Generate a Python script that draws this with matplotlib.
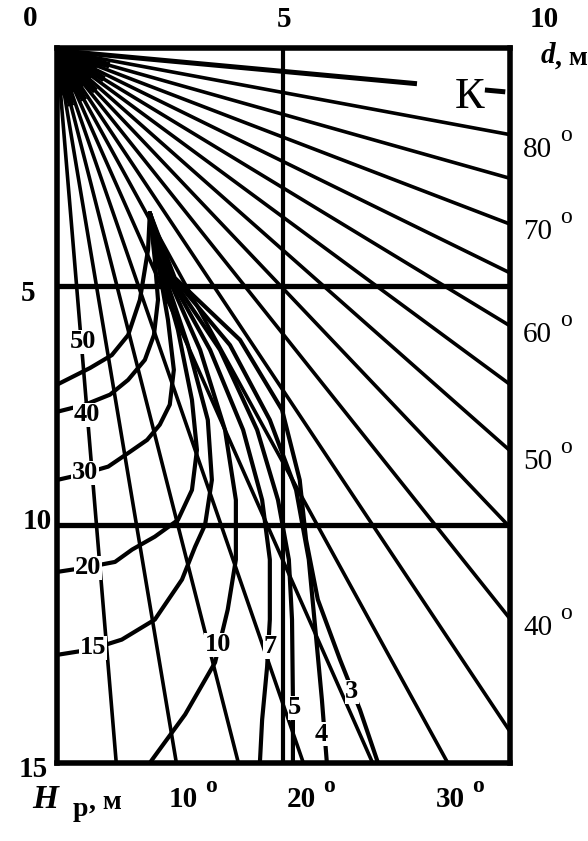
import numpy as np
import matplotlib
matplotlib.use("Agg")
import matplotlib.pyplot as plt

plt.rcParams['font.family'] = ['Liberation Serif', 'DejaVu Serif']

# rays from the pole, angle counted from the vertical (deg)
ray_angles = [5, 10, 15, 20, 25, 30, 35, 40, 45, 50, 55, 60, 65, 70, 75, 80]
pole = (0.0, 0.05)
# K line (85 deg) is drawn dashed: d-ranges of its pieces
k_angle = 85
k_pieces = [(0.0, 7.95), (9.45, 9.9)]

# second family: curves leaving the common point, (d, H)
curves = {
    '50': [(2.05, 3.46), (2.01, 4.23), (1.83, 5.28), (1.57, 6.02), (1.21, 6.44),
           (0.73, 6.71), (0, 7.06)],
    '40': [(2.05, 3.46), (2.16, 4.44), (2.23, 5.28), (2.14, 6.02), (1.94, 6.54),
           (1.57, 6.96), (1.17, 7.27), (0.62, 7.48), (0, 7.63)],
    '30': [(2.05, 3.46), (2.23, 4.49), (2.45, 5.70), (2.58, 6.75), (2.49, 7.48),
           (2.27, 7.90), (1.99, 8.22), (1.61, 8.47), (1.13, 8.78), (0.51, 8.95),
           (0, 9.06)],
    '20': [(2.05, 3.46), (2.27, 4.55), (2.67, 5.91), (2.98, 7.38), (3.09, 8.43),
           (2.98, 9.27), (2.67, 9.90), (2.16, 10.25), (1.66, 10.52), (1.28, 10.78),
           (0.62, 10.90), (0, 10.99)],
    '15': [(2.05, 3.46), (2.32, 4.61), (2.89, 6.23), (3.33, 7.80), (3.42, 9.06),
           (3.27, 10.0), (3.05, 10.46), (2.76, 11.15), (2.16, 11.99), (1.43, 12.41),
           (0.73, 12.62), (0, 12.73)],
    '10': [(2.05, 3.46), (2.38, 4.65), (3.16, 6.33), (3.71, 8.01), (3.95, 9.48),
           (3.95, 10.73), (3.77, 11.78), (3.49, 12.89), (2.83, 13.98), (2.10, 14.93),
           (2.05, 15.0)],
    '7': [(2.05, 3.46), (2.43, 4.70), (3.38, 6.33), (4.11, 8.01), (4.53, 9.48),
          (4.70, 10.73), (4.70, 11.99), (4.64, 12.98), (4.53, 14.09), (4.48, 15.0)],
    '5': [(2.05, 3.46), (2.49, 4.76), (3.60, 6.33), (4.42, 8.01), (4.88, 9.48),
          (5.12, 10.73), (5.19, 11.99), (5.21, 13.67), (5.21, 15.0)],
    '4': [(2.05, 3.46), (2.54, 4.78), (3.82, 6.23), (4.70, 7.80), (5.28, 9.27),
          (5.56, 10.73), (5.70, 12.14), (5.85, 13.67), (5.96, 15.0)],
    '3': [(2.05, 3.46), (2.60, 4.82), (4.04, 6.12), (4.97, 7.59), (5.36, 9.06),
          (5.50, 10.31), (5.76, 11.57), (6.25, 12.83), (6.69, 13.88), (7.09, 15.0)],
}

# curve label positions (d, H)
curve_labels = {
    '50': (0.57, 6.16), '40': (0.66, 7.69), '30': (0.62, 8.91), '20': (0.68, 10.9),
    '15': (0.8, 12.58), '10': (3.55, 12.52), '7': (4.70, 12.56), '5': (5.25, 13.84),
    '4': (5.83, 14.4), '3': (6.51, 13.5),
}

# angle scale labels
right_angles = [80, 70, 60, 50, 40]
right_pos = [2.14, 3.86, 6.02, 8.68, 12.16]
bottom_angles = [10, 20, 30]
bottom_pos = [2.78, 5.39, 8.68]

fig = plt.figure(figsize=(5.88, 8.41), dpi=100)
ax = fig.add_axes([0.097, 0.0927, 0.770, 0.850])
ax.set_xlim(0, 10)
ax.set_ylim(15, 0)
ax.set_xticks([])
ax.set_yticks([])
for s in ax.spines.values():
    s.set_linewidth(4.0)
    s.set_zorder(10)

# grid
ax.axvline(5, color='black', lw=3.0, zorder=9)
for h in [5, 10]:
    ax.axhline(h, color='black', lw=3.8, zorder=9)

# rays (heavier near the pole, where the print is filled in)
L = 40.0
for i, a in enumerate(ray_angles):
    t = np.radians(a)
    ax.plot([pole[0], pole[0] + L * np.sin(t)], [pole[1], pole[1] + L * np.cos(t)],
            color='black', lw=2.6, solid_capstyle='butt', zorder=3)
    r0 = 0.7 + 0.25 * (i % 3)
    ax.plot([pole[0], pole[0] + r0 * np.sin(t)], [pole[1], pole[1] + r0 * np.cos(t)],
            color='black', lw=4.6, solid_capstyle='butt', zorder=3)

tk = np.radians(k_angle)
for d1, d2 in k_pieces:
    ax.plot([d1, d2], [pole[1] + d1 / np.tan(tk), pole[1] + d2 / np.tan(tk)],
            color='black', lw=3.6, solid_capstyle='butt', zorder=3)

# curves
for name, pts in curves.items():
    pts = np.array(pts)
    ax.plot(pts[:, 0], pts[:, 1], color='black', lw=3.0, zorder=4,
            solid_joinstyle='round', solid_capstyle='round')

bold = dict(fontweight='bold', color='black')
box = dict(facecolor='white', edgecolor='none', pad=0.4)

for name, (x, y) in curve_labels.items():
    ax.text(x, y, name, fontsize=19, ha='center', va='center', bbox=box,
            zorder=12, **bold)

ax.text(9.12, 1.03, 'К', fontsize=32, ha='center', va='center', zorder=12)

# outer scales
fs = 21
ax.text(-0.6, -0.63, '0', fontsize=fs, ha='center', va='center', clip_on=False, **bold)
ax.text(5.01, -0.6, '5', fontsize=fs, ha='center', va='center', clip_on=False, **bold)
ax.text(10.77, -0.6, '10', fontsize=fs, ha='center', va='center', clip_on=False, **bold)
ax.text(-0.64, 5.14, '5', fontsize=fs, ha='center', va='center', clip_on=False, **bold)
ax.text(-0.44, 9.94, '10', fontsize=fs, ha='center', va='center', clip_on=False, **bold)
ax.text(-0.53, 15.14, '15', fontsize=fs, ha='center', va='center', clip_on=False, **bold)

ax.text(10.84, 0.15, 'd', fontsize=21, fontstyle='italic', ha='center', va='center',
        clip_on=False, **bold)
ax.text(11.37, 0.21, ', м', fontsize=20, ha='center', va='center', clip_on=False, **bold)

# degree marks drawn as a raised small "o"
for a, y in zip(right_angles, right_pos):
    ax.text(10.29, y, '%d' % a, fontsize=fs, ha='left', va='center', clip_on=False)
    ax.text(11.25, y - 0.3, 'o', fontsize=17, ha='center', va='center', clip_on=False)
for a, x in zip(bottom_angles, bottom_pos):
    ax.text(x, 15.77, '%d' % a, fontsize=fs, ha='center', va='center', clip_on=False,
            **bold)
    ax.text(x + 0.62, 15.5, 'o', fontsize=17, ha='center', va='center', clip_on=False,
            **bold)

ax.text(-0.26, 15.77, 'H', fontsize=24, fontstyle='italic', ha='center', va='center',
        clip_on=False, **bold)
ax.text(0.51, 15.97, 'р', fontsize=20, ha='center', va='center', clip_on=False, **bold)
ax.text(1.06, 15.83, ', м', fontsize=20, ha='center', va='center', clip_on=False, **bold)

fig.savefig('out.png', dpi=100, facecolor='white')
